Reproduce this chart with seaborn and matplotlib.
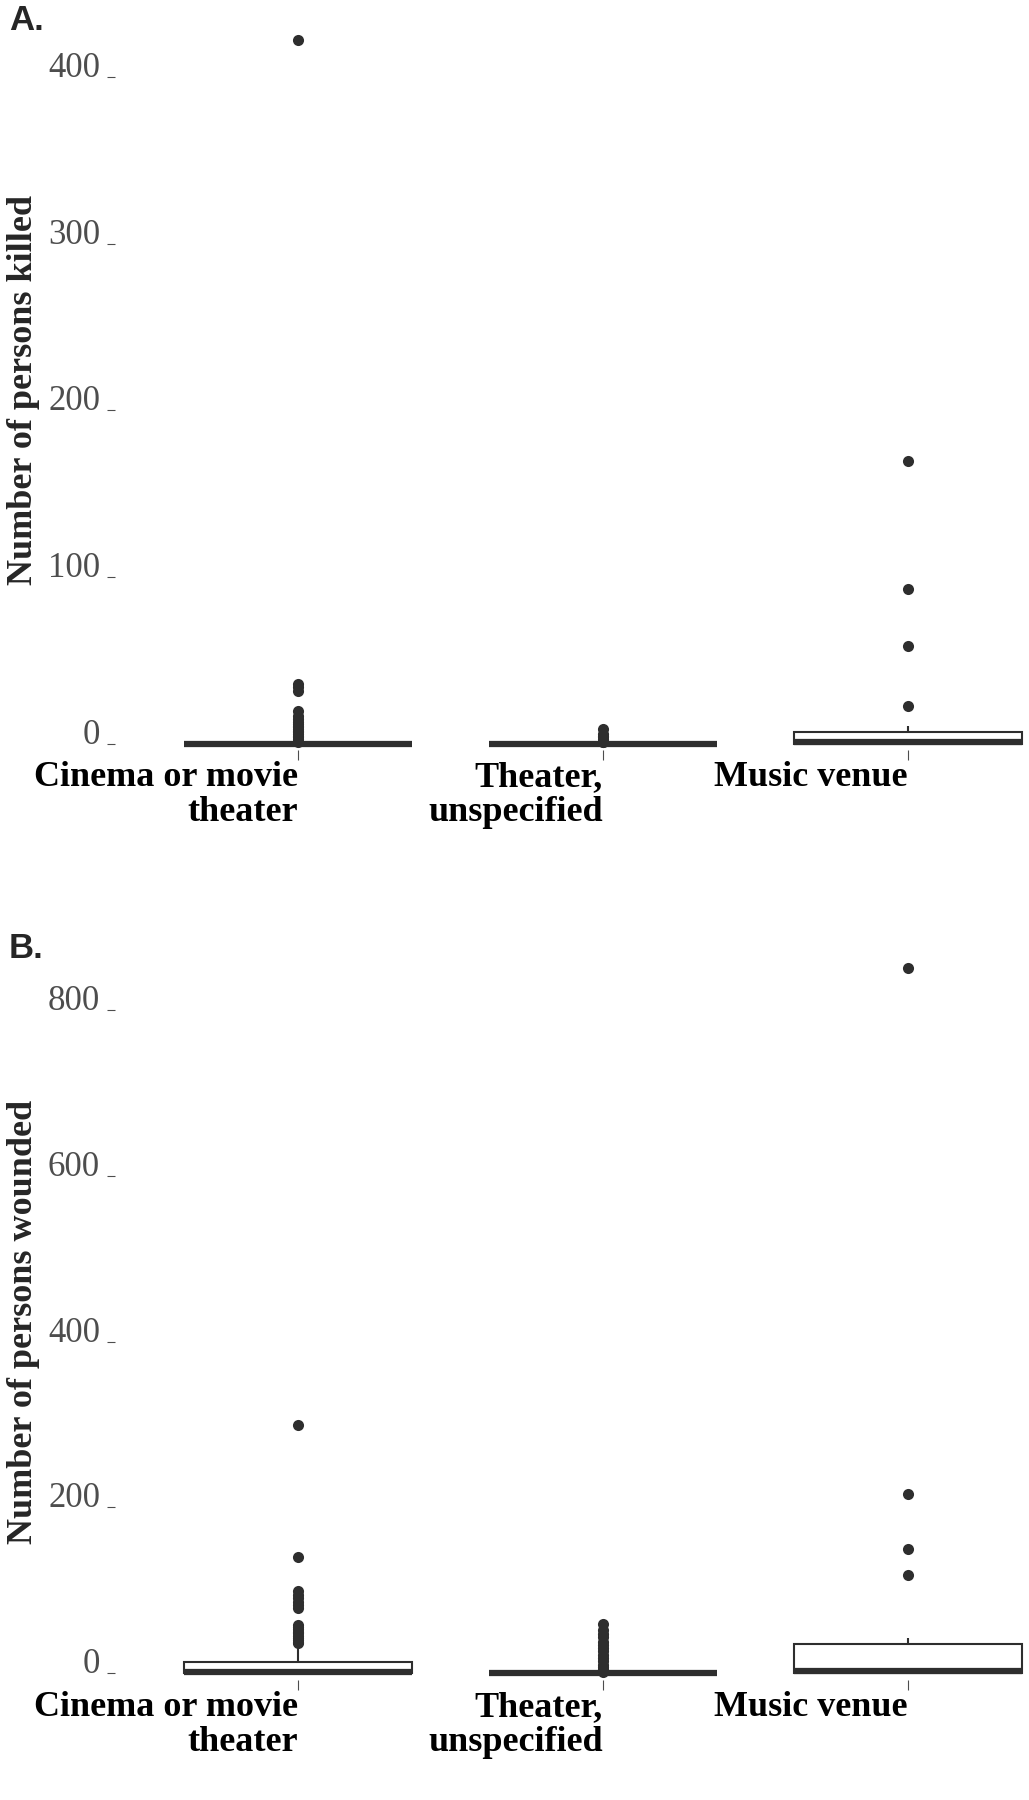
import numpy as np
import pandas as pd
import matplotlib
matplotlib.use("Agg")
import matplotlib.pyplot as plt
import seaborn as sns

# ---------------- data ----------------
categories = ["Cinema or movie\ntheater", "Theater,\nunspecified", "Music venue"]

killed_cinema = [0] * 80 + [1, 2, 3, 4, 5, 6, 7, 8, 9, 10, 11, 12, 13, 15, 17, 20,
                            32, 34, 36, 422]
killed_theater = [0] * 68 + [1, 1, 2, 2, 3, 4, 5, 6, 9]
killed_music = [0] * 10 + [1, 1, 2, 4, 6, 7, 7, 11] + [23, 59, 93, 170]

wounded_cinema = ([0] * 45 + [1] * 10
                  + [2, 2, 3, 3, 4, 4, 5, 5, 6, 6, 7, 8, 8, 9, 10, 10, 11, 12, 12]
                  + [13, 13, 15, 18, 20, 24, 27, 30]
                  + [36, 38, 40, 42, 45, 48, 50, 53, 55, 58,
                     78, 82, 86, 90, 94, 99, 140, 299])
wounded_theater = [0] * 60 + [1, 2, 3, 5, 7, 10, 14, 18, 22, 26, 30, 34, 38, 43,
                              47, 52, 59]
wounded_music = [0] * 8 + [1, 1, 2, 2, 5, 12, 20, 35, 35, 42] + [118, 150, 216, 851]

killed_ticks = [0, 100, 200, 300, 400]
wounded_ticks = [0, 200, 400, 600, 800]
killed_ylim = (-3.6, 443.1)
wounded_ylim = (-8.4, 893.6)

panel_labels = ["A.", "B."]
y_titles = ["Number of persons killed", "Number of persons wounded"]

# ---------------- style ----------------
sns.set_style("white")
plt.rcParams["font.family"] = ["Liberation Serif", "DejaVu Serif"]

DARK = "#2e2e2e"
TICK = "#4d4d4d"

W, H = 1029, 1800
fig = plt.figure(figsize=(W / 100, H / 100), dpi=100)


def make_panel(rect_px, series, ticks, ylim, label, ytitle, title_cy):
    left, top, right, bottom = rect_px
    ax = fig.add_axes([left / W, 1 - bottom / H, (right - left) / W, (bottom - top) / H])
    df = pd.DataFrame({
        "cat": np.repeat(categories, [len(s) for s in series]),
        "val": np.concatenate([np.asarray(s, dtype=float) for s in series]),
    })
    sns.boxplot(data=df, x="cat", y="val", order=categories, width=0.75,
                color="white", saturation=1, linecolor=DARK, linewidth=1.5,
                showcaps=False, fliersize=8,
                flierprops=dict(marker="o", markerfacecolor=DARK,
                                markeredgecolor=DARK, markeredgewidth=0),
                medianprops=dict(linewidth=4.5, color=DARK, solid_capstyle="butt"),
                ax=ax)
    for art in list(ax.patches) + list(ax.lines):
        art.set_clip_on(False)
    ax.set_ylim(*ylim)
    ax.set_xlim(-0.6, 2.397)
    for sp in ax.spines.values():
        sp.set_visible(False)
    ax.grid(False)
    ax.set_xlabel("")
    ax.set_ylabel("")
    ax.set_yticks(ticks)
    ax.set_yticklabels([str(t) for t in ticks], va="baseline", color=TICK,
                       fontsize=25)
    ax.set_xticks(range(len(categories)))
    ax.set_xticklabels(categories, ha="right", multialignment="right",
                       fontweight="bold", fontsize=26, color="black",
                       linespacing=1.08)
    ax.tick_params(axis="y", left=True, length=5.8, width=0.8, color=TICK, pad=5)
    ax.tick_params(axis="x", bottom=True, length=7.2, width=0.8, color=TICK, pad=0.5)
    # y title and panel label
    fig.text(24 / W, 1 - title_cy / H, ytitle, rotation=90, ha="center", va="center",
             fontsize=26, fontweight="bold")
    fig.text(9 / W, 1 - (top + 25) / H, label, ha="left", va="baseline",
             fontsize=25, fontweight="bold", family="Liberation Sans")
    return ax


make_panel((115, 5.1, 1029, 750),
           [killed_cinema, killed_theater, killed_music],
           killed_ticks, killed_ylim, panel_labels[0], y_titles[0], 390)
make_panel((115, 932.5, 1029, 1680),
           [wounded_cinema, wounded_theater, wounded_music],
           wounded_ticks, wounded_ylim, panel_labels[1], y_titles[1], 1322)

fig.savefig("out.png", dpi=100, facecolor="white")
